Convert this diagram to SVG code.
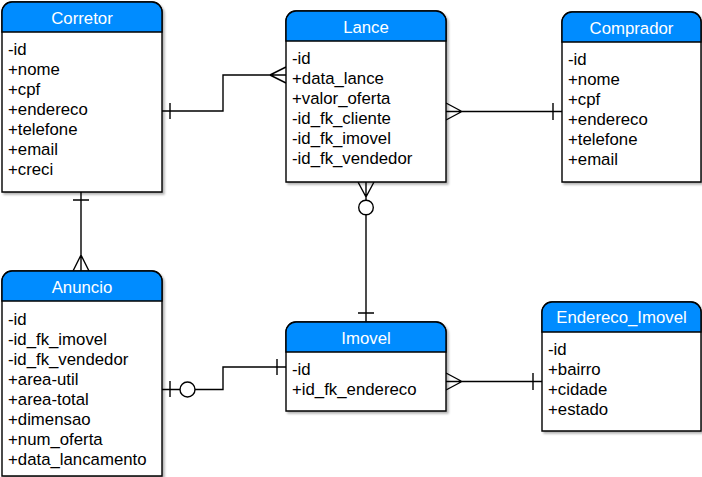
<svg xmlns="http://www.w3.org/2000/svg" width="702" height="477" viewBox="0 0 702 477">
<defs>
<filter id="sh" x="-10%" y="-10%" width="130%" height="130%">
<feDropShadow dx="2" dy="2" stdDeviation="0.8" flood-color="#000" flood-opacity="0.3"/>
</filter>
</defs>
<style>
.box{fill:#fff;stroke:#000;stroke-width:1.4;filter:url(#sh)}
.hdr{fill:#008CFF;stroke:#000;stroke-width:1.4}
.ttl{font-family:"Liberation Sans",Arial,sans-serif;font-size:16.8px;fill:#fff;text-anchor:middle}
.att{font-family:"Liberation Sans",Arial,sans-serif;font-size:16.8px;fill:#000}
.con{fill:none;stroke:#000;stroke-width:1.4}
.circ{fill:#fff;stroke:#000;stroke-width:1.4}
</style>
<rect width="702" height="477" fill="#fff"/>

<g id="connectors">
<path class="con" d="M162,111 H223 V75 H286 M270,75 L286,67 M270,75 L286,83 M170,103 V119"/>
<path class="con" d="M446,111.5 H562 M462,111.5 L446,103 M462,111.5 L446,120 M553,103 V120"/>
<path class="con" d="M366,182 V322 M366,197 L358,182 M366,197 L374,182 M358,313 H374"/>
<circle class="circ" cx="366" cy="207.5" r="7.3"/>
<path class="con" d="M81,192 V271 M73,200 H89 M81,255 L73,271 M81,255 L89,271"/>
<path class="con" d="M162,389.5 H223 V367 H286 M170,381 V397 M277,359 V375"/>
<circle class="circ" cx="187.5" cy="389.5" r="7.5"/>
<path class="con" d="M446,381.5 H542 M462,381.5 L446,373 M462,381.5 L446,390 M533,373 V390"/>
</g>

<g id="corretor">
<path class="box" d="M2,192 V12 A10,10 0 0 1 12,2 H152 A10,10 0 0 1 162,12 V192 Z"/>
<path class="hdr" d="M2,32 V12 A10,10 0 0 1 12,2 H152 A10,10 0 0 1 162,12 V32 Z"/>
<text class="ttl" x="82" y="24">Corretor</text>
<text class="att" x="8" y="55">-id</text>
<text class="att" x="8" y="75">+nome</text>
<text class="att" x="8" y="95">+cpf</text>
<text class="att" x="8" y="115">+endereco</text>
<text class="att" x="8" y="135">+telefone</text>
<text class="att" x="8" y="155">+email</text>
<text class="att" x="8" y="175">+creci</text>
</g>

<g id="lance">
<path class="box" d="M286,182 V21 A10,10 0 0 1 296,11 H436 A10,10 0 0 1 446,21 V182 Z"/>
<path class="hdr" d="M286,41 V21 A10,10 0 0 1 296,11 H436 A10,10 0 0 1 446,21 V41 Z"/>
<text class="ttl" x="366" y="33">Lance</text>
<text class="att" x="292" y="64">-id</text>
<text class="att" x="292" y="84">+data_lance</text>
<text class="att" x="292" y="104">+valor_oferta</text>
<text class="att" x="292" y="124">-id_fk_cliente</text>
<text class="att" x="292" y="144">-id_fk_imovel</text>
<text class="att" x="292" y="164">-id_fk_vendedor</text>
</g>

<g id="comprador">
<path class="box" d="M562,182 V22 A10,10 0 0 1 572,12 H691 A10,10 0 0 1 701,22 V182 Z"/>
<path class="hdr" d="M562,42 V22 A10,10 0 0 1 572,12 H691 A10,10 0 0 1 701,22 V42 Z"/>
<text class="ttl" x="631.5" y="34">Comprador</text>
<text class="att" x="568" y="65">-id</text>
<text class="att" x="568" y="85">+nome</text>
<text class="att" x="568" y="105">+cpf</text>
<text class="att" x="568" y="125">+endereco</text>
<text class="att" x="568" y="145">+telefone</text>
<text class="att" x="568" y="165">+email</text>
</g>

<g id="anuncio">
<path class="box" d="M2,476 V281 A10,10 0 0 1 12,271 H152 A10,10 0 0 1 162,281 V476 Z"/>
<path class="hdr" d="M2,301 V281 A10,10 0 0 1 12,271 H152 A10,10 0 0 1 162,281 V301 Z"/>
<text class="ttl" x="82" y="293">Anuncio</text>
<text class="att" x="8" y="325">-id</text>
<text class="att" x="8" y="345">-id_fk_imovel</text>
<text class="att" x="8" y="365">-id_fk_vendedor</text>
<text class="att" x="8" y="385">+area-util</text>
<text class="att" x="8" y="405">+area-total</text>
<text class="att" x="8" y="425">+dimensao</text>
<text class="att" x="8" y="445">+num_oferta</text>
<text class="att" x="8" y="465">+data_lancamento</text>
</g>

<g id="imovel">
<path class="box" d="M286,411 V332 A10,10 0 0 1 296,322 H436 A10,10 0 0 1 446,332 V411 Z"/>
<path class="hdr" d="M286,352 V332 A10,10 0 0 1 296,322 H436 A10,10 0 0 1 446,332 V352 Z"/>
<text class="ttl" x="366" y="344">Imovel</text>
<text class="att" x="292" y="375">-id</text>
<text class="att" x="292" y="395">+id_fk_endereco</text>
</g>

<g id="endereco_imovel">
<path class="box" d="M542,431 V312 A10,10 0 0 1 552,302 H691 A10,10 0 0 1 701,312 V431 Z"/>
<path class="hdr" d="M542,332 V312 A10,10 0 0 1 552,302 H691 A10,10 0 0 1 701,312 V332 Z"/>
<text class="ttl" x="621.5" y="323">Endereco_Imovel</text>
<text class="att" x="548" y="355">-id</text>
<text class="att" x="548" y="375">+bairro</text>
<text class="att" x="548" y="395">+cidade</text>
<text class="att" x="548" y="415">+estado</text>
</g>
</svg>
